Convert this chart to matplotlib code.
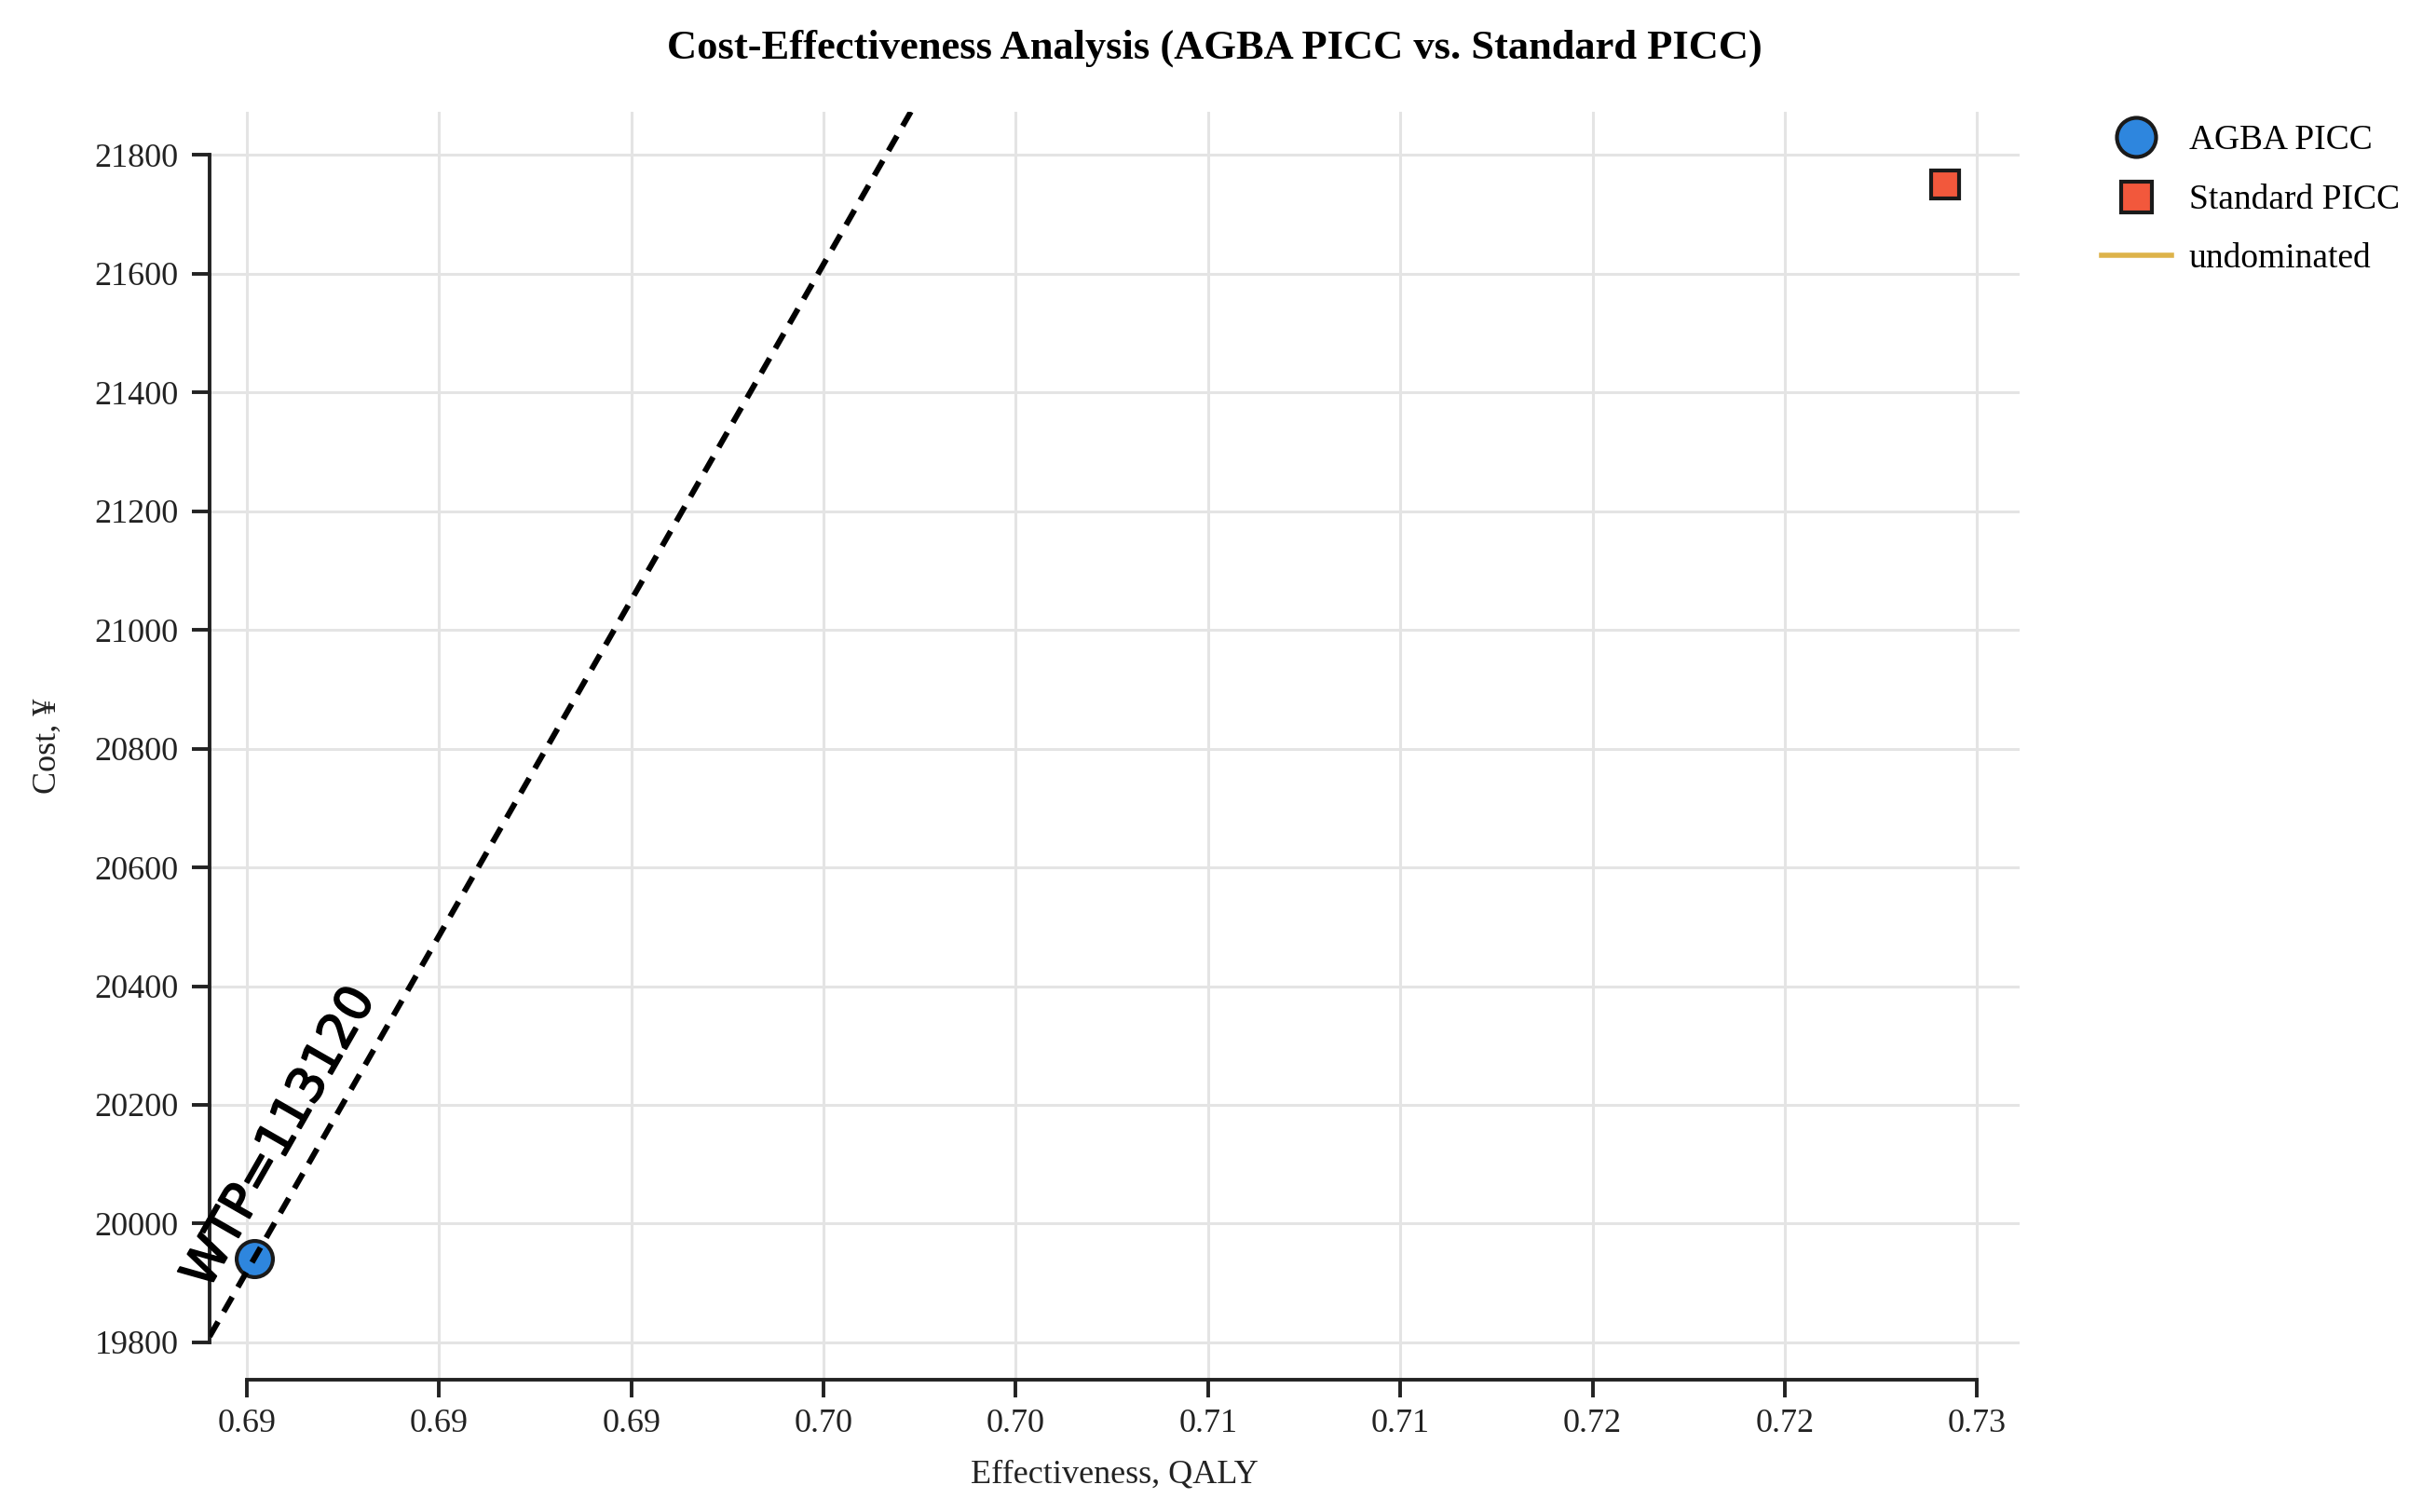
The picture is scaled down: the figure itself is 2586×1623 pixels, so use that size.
import numpy as np
import matplotlib
matplotlib.use("Agg")
import matplotlib.pyplot as plt
import matplotlib.patheffects as pe

plt.rcParams['font.family'] = ['Liberation Serif', 'DejaVu Serif']

# data
strategies = ['AGBA PICC', 'Standard PICC']
effect_qaly = [0.68519, 0.72916]
cost_yuan = [19941, 21751]
undominated = ['AGBA PICC']
wtp = 113120

x_ticks = [0.685, 0.690, 0.695, 0.700, 0.705, 0.710, 0.715, 0.720, 0.725, 0.730]
x_tick_labels = ['0.69', '0.69', '0.69', '0.70', '0.70', '0.71', '0.71', '0.72', '0.72', '0.73']
y_ticks = [19800, 20000, 20200, 20400, 20600, 20800, 21000, 21200, 21400, 21600, 21800]

markers = ['o', 's']
colors = ['#2E86DE', '#F2583C']
frontier_color = '#DDB34A'

fig = plt.figure(figsize=(12.93, 8.115), dpi=200)
ax = fig.add_axes([0.087, 0.0875, 0.7514, 0.8386])

ax.set_xlim(0.68403, 0.73111)
ax.set_ylim(19737, 21873)

ax.grid(True, color='#E4E4E4', linewidth=1.1, zorder=0)
ax.set_axisbelow(True)

for name, x, y, m, c in zip(strategies, effect_qaly, cost_yuan, markers, colors):
    ms = 14 if m == 'o' else 11
    ax.plot([x], [y], linestyle='none', marker=m, markersize=ms, markerfacecolor=c,
            markeredgecolor='#1a1a1a', markeredgewidth=1.5, label=name, zorder=3)

# efficiency frontier (only one undominated strategy -> nothing visible)
fx = [effect_qaly[strategies.index(s)] for s in undominated]
fy = [cost_yuan[strategies.index(s)] for s in undominated]
ax.plot(fx, fy, color=frontier_color, linewidth=2, label='undominated', zorder=2)

# WTP threshold line through the reference strategy
x0, y0 = effect_qaly[0], cost_yuan[0]
ax.axline((x0, y0), slope=wtp, color='black', linestyle=(0, (3, 2)), linewidth=2.2, zorder=4)

p = ax.transData.transform([(x0, y0), (x0 + 0.01, y0 + 0.01 * wtp)])
angle = np.degrees(np.arctan2(p[1, 1] - p[0, 1], p[1, 0] - p[0, 0]))
ax.text(0.68585, 20145, f'WTP={wtp}', rotation=angle, rotation_mode='anchor',
        ha='center', va='center', fontsize=19, family='DejaVu Sans', zorder=5,
        path_effects=[pe.withStroke(linewidth=0.7, foreground='black')])

ax.set_xticks(x_ticks)
ax.set_xticklabels(x_tick_labels)
ax.set_yticks(y_ticks)
ax.tick_params(axis='both', labelsize=13, length=7, width=1.4, color='#222222', labelcolor='#222222')
ax.tick_params(axis='y', pad=5)
ax.tick_params(axis='x', pad=4)

for side in ['top', 'right']:
    ax.spines[side].set_visible(False)
for side in ['left', 'bottom']:
    ax.spines[side].set_linewidth(1.4)
    ax.spines[side].set_color('#222222')
ax.spines['left'].set_bounds(y_ticks[0], y_ticks[-1])
ax.spines['bottom'].set_bounds(x_ticks[0], x_ticks[-1])

ax.set_xlabel('Effectiveness, QALY', fontsize=13, color='#222222', labelpad=8)
ax.set_ylabel('Cost, ¥', fontsize=13, color='#222222', labelpad=12)
fig.text(1304 / 2586, 1 - 52 / 1623, 'Cost-Effectiveness Analysis (AGBA PICC vs. Standard PICC)',
         ha='center', va='center', fontsize=16, fontweight='bold')

ax.legend(loc='upper left', bbox_to_anchor=(0.8665, 0.927), bbox_transform=fig.transFigure,
          frameon=False, fontsize=13.5, handlelength=2.0, handletextpad=0.5,
          labelspacing=0.78, borderaxespad=0, markerscale=1.08)

fig.savefig('out.png', dpi=200, facecolor='white')
